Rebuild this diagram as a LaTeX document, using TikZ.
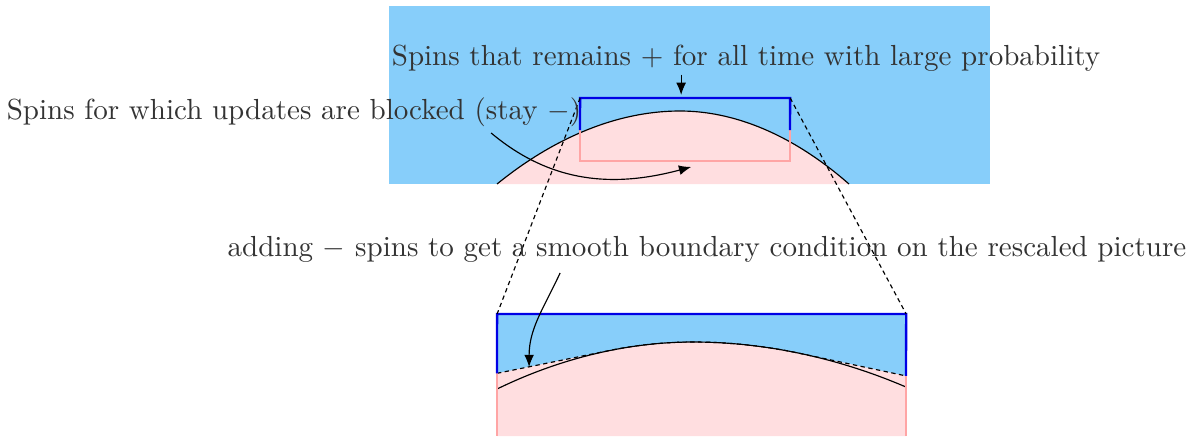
\documentclass[tikz,border=0pt]{standalone}
\usepackage{tikz}
\usetikzlibrary{arrows.meta}
\definecolor{skyfill}{RGB}{135,206,250}
\definecolor{pinkfill}{RGB}{255,222,224}
\definecolor{pinkline}{RGB}{255,165,165}
\begin{document}
\begin{tikzpicture}[scale=1.21,
    bluebox/.style={blue!90!black, thick},
    pinkbox/.style={pinkline, thick},
    zoomline/.style={dash pattern=on 1.5pt off 1.2pt, thin},
    note/.style={text=black!80, inner sep=1pt},
    tip/.style={-{Latex[length=4.2pt,width=3.4pt]}}]
  \useasboundingbox (0,0) rectangle (11.90,4.36);

  % upper picture
  \fill[skyfill] (3.89,2.52) rectangle (9.90,4.30);
  \fill[pinkfill] (4.97,2.52) parabola bend (6.80,3.25) (8.49,2.52) -- cycle;
  \draw (4.97,2.52) parabola bend (6.80,3.25) (8.49,2.52);

  \coordinate (ul) at (5.80,3.38);
  \coordinate (ur) at (7.90,3.38);
  \draw[pinkbox] (5.80,3.06) -- (5.80,2.75) -- (7.90,2.75) -- (7.90,3.06);
  \draw[bluebox] (5.80,3.06) -- (ul) -- (ur) -- (7.90,3.06);

  % lower picture (rescaled)
  \coordinate (ll) at (4.97,1.22);
  \coordinate (lr) at (9.06,1.22);
  \fill[skyfill] (ll) rectangle (9.06,0.55);
  \fill[pinkfill] (4.97,0) -- (4.97,0.627) -- (6.10,0.856) parabola bend (6.93,0.94) (8.00,0.826) -- (9.06,0.601) -- (9.06,0) -- cycle;
  \draw[zoomline] (4.97,0.627) -- (6.10,0.856) parabola bend (6.93,0.94) (8.00,0.826) -- (9.06,0.601);
  \draw (4.97,0.47) parabola bend (6.93,0.94) (9.06,0.49);
  \draw[pinkbox] (4.97,0.627) -- (4.97,0);
  \draw[pinkbox] (9.06,0.601) -- (9.06,0);
  \draw[bluebox] (4.97,0.627) -- (ll) -- (lr) -- (9.06,0.601);

  % zoom lines
  \draw[zoomline] (ul) -- (ll);
  \draw[zoomline] (ur) -- (lr);

  % labels
  \node[note] (remain) at (7.46,3.78) {Spins that remains $+$ for all time with large probability};
  \node[note] (blocked) at (2.94,3.24) {Spins for which updates are blocked (stay $-$)};
  \node[note] (adding) at (7.07,1.87) {adding $-$ spins to get a smooth boundary condition on the rescaled picture};

  \coordinate (rtip) at (6.81,3.41);
  \coordinate (bstart) at (4.91,3.03);
  \coordinate (btip) at (6.91,2.69);
  \coordinate (astart) at (5.60,1.63);
  \coordinate (atip) at (5.29,0.69);
  \draw[tip] (remain.south -| rtip) -- (rtip);
  \draw[tip] (bstart) to[out=-40,in=195] (btip);
  \draw[tip] (astart) to[out=-115,in=90] (atip);
\end{tikzpicture}
\end{document}
